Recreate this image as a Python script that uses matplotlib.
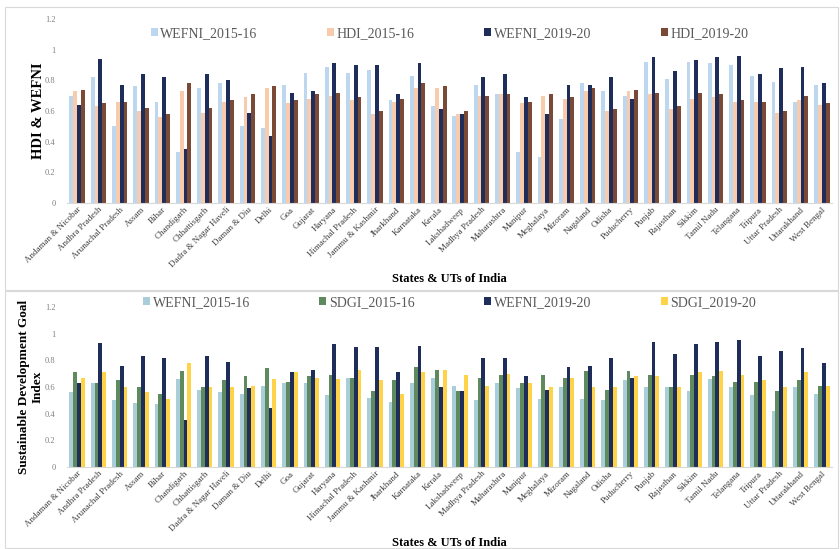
import numpy as np
import matplotlib.pyplot as plt
from matplotlib.patches import Rectangle

states = ["Andaman & Nicobar", "Andhra Pradesh", "Arunachal Pradesh", "Assam", "Bihar",
          "Chandigarh", "Chhattisgarh", "Dadra & Nagar Haveli", "Daman & Diu", "Delhi",
          "Goa", "Gujarat", "Haryana", "Himachal Pradesh", "Jammu & Kashmir", "Jharkhand",
          "Karnataka", "Kerala", "Lakshadweep", "Madhya Pradesh", "Maharashtra", "Manipur",
          "Meghalaya", "Mizoram", "Nagaland", "Odisha", "Puducherry", "Punjab", "Rajasthan",
          "Sikkim", "Tamil Nadu", "Telangana", "Tripura", "Uttar Pradesh", "Uttarakhand",
          "West Bengal"]

# top panel
wefni_15_top = [0.70, 0.82, 0.50, 0.76, 0.66, 0.33, 0.75, 0.78, 0.50, 0.49, 0.77, 0.85,
                0.89, 0.85, 0.87, 0.67, 0.83, 0.63, 0.57, 0.77, 0.71, 0.33, 0.30, 0.55,
                0.78, 0.73, 0.70, 0.92, 0.81, 0.92, 0.91, 0.90, 0.83, 0.79, 0.66, 0.77]
hdi_15 = [0.73, 0.63, 0.66, 0.60, 0.56, 0.73, 0.59, 0.66, 0.69, 0.75, 0.65, 0.68,
          0.70, 0.67, 0.58, 0.66, 0.75, 0.75, 0.58, 0.70, 0.71, 0.65, 0.70, 0.68,
          0.73, 0.60, 0.73, 0.71, 0.61, 0.68, 0.69, 0.66, 0.66, 0.59, 0.67, 0.64]
wefni_19_top = [0.64, 0.94, 0.77, 0.84, 0.82, 0.35, 0.84, 0.80, 0.59, 0.44, 0.72, 0.73,
                0.91, 0.90, 0.90, 0.71, 0.91, 0.61, 0.58, 0.82, 0.84, 0.69, 0.58, 0.77,
                0.77, 0.82, 0.68, 0.95, 0.86, 0.93, 0.95, 0.96, 0.84, 0.88, 0.89, 0.78]
hdi_19 = [0.74, 0.65, 0.66, 0.62, 0.58, 0.78, 0.62, 0.67, 0.71, 0.76, 0.67, 0.71,
          0.72, 0.69, 0.60, 0.68, 0.78, 0.76, 0.60, 0.70, 0.71, 0.66, 0.71, 0.69,
          0.75, 0.61, 0.74, 0.72, 0.63, 0.72, 0.71, 0.67, 0.66, 0.60, 0.70, 0.65]

# bottom panel
wefni_15_bot = [0.56, 0.63, 0.50, 0.48, 0.47, 0.66, 0.58, 0.56, 0.55, 0.61, 0.63, 0.63,
                0.54, 0.67, 0.52, 0.49, 0.63, 0.67, 0.61, 0.50, 0.63, 0.59, 0.51, 0.60,
                0.51, 0.50, 0.65, 0.60, 0.60, 0.57, 0.66, 0.60, 0.54, 0.42, 0.60, 0.55]
sdgi_15 = [0.71, 0.63, 0.65, 0.60, 0.55, 0.72, 0.60, 0.65, 0.68, 0.74, 0.64, 0.68,
           0.69, 0.67, 0.57, 0.65, 0.75, 0.73, 0.57, 0.67, 0.69, 0.63, 0.69, 0.67,
           0.72, 0.58, 0.72, 0.69, 0.60, 0.69, 0.68, 0.64, 0.64, 0.57, 0.65, 0.61]
wefni_19_bot = [0.63, 0.93, 0.76, 0.83, 0.82, 0.35, 0.83, 0.79, 0.59, 0.44, 0.71, 0.73,
                0.92, 0.90, 0.90, 0.71, 0.91, 0.60, 0.57, 0.82, 0.82, 0.68, 0.58, 0.75,
                0.76, 0.82, 0.67, 0.94, 0.85, 0.92, 0.94, 0.95, 0.83, 0.87, 0.89, 0.78]
sdgi_19 = [0.67, 0.71, 0.60, 0.56, 0.51, 0.78, 0.60, 0.60, 0.61, 0.66, 0.71, 0.67,
           0.66, 0.73, 0.65, 0.55, 0.71, 0.73, 0.69, 0.61, 0.70, 0.63, 0.60, 0.67,
           0.60, 0.60, 0.68, 0.68, 0.60, 0.71, 0.72, 0.69, 0.65, 0.60, 0.71, 0.61]

plt.rcParams['font.family'] = ['Liberation Serif', 'DejaVu Serif']

fig = plt.figure(figsize=(8.4, 5.49), dpi=100)

# chart borders
fig.patches.append(Rectangle((5 / 840, 1 - 290 / 549), 833 / 840, 283 / 549,
                             transform=fig.transFigure, fill=False, ec='#d9d9d9', lw=0.8))
fig.patches.append(Rectangle((5 / 840, 0.002), 833 / 840, 1 - 292 / 549,
                             transform=fig.transFigure, fill=False, ec='#d9d9d9', lw=0.8))

x = np.arange(len(states))
w = 0.18


def panel(ax, series, colors, labels, ylabel, yl_size, yl_pad, leg_y):
    for k, (vals, c, lab) in enumerate(zip(series, colors, labels)):
        ax.bar(x + (k - 1.5) * w, vals, w, color=c, label=lab)
    ax.set_xlim(-0.5, len(states) - 0.5)
    ax.set_ylim(0, 1.2)
    ax.set_yticks([0, 0.2, 0.4, 0.6, 0.8, 1.0, 1.2])
    ax.set_yticklabels(["0", "0.2", "0.4", "0.6", "0.8", "1", "1.2"])
    ax.set_xticks(x)
    ax.set_xticklabels(states, rotation=45, ha='right', rotation_mode='anchor', fontsize=6.5,
                       color='#404040')
    for s in ['top', 'right', 'left']:
        ax.spines[s].set_visible(False)
    ax.spines['bottom'].set_color('#d9d9d9')
    ax.tick_params(axis='y', length=0, labelsize=6, labelcolor='#808080', pad=8)
    ax.tick_params(axis='x', length=0, pad=2)
    ax.set_ylabel(ylabel, fontsize=yl_size, fontweight='bold', labelpad=yl_pad)
    ax.set_xlabel("States & UTs of India", fontsize=9, fontweight='bold', labelpad=3)
    ax.legend(loc='center', bbox_to_anchor=(0.5, leg_y), ncol=4, frameon=False,
              fontsize=10, columnspacing=5.0, handlelength=0.5, handleheight=0.5,
              handletextpad=0.2, labelcolor='#595959')


ax1 = fig.add_axes([66.5 / 840, 1 - 203 / 549, 766 / 840, 184 / 549])
panel(ax1, [wefni_15_top, hdi_15, wefni_19_top, hdi_19],
      ['#bdd7ee', '#f8cbad', '#1f2d5a', '#7b4a36'],
      ["WEFNI_2015-16", "HDI_2015-16", "WEFNI_2019-20", "HDI_2019-20"],
      "HDI & WEFNI", 10.5, 0, 0.92)

ax2 = fig.add_axes([66.5 / 840, 1 - 467 / 549, 766 / 840, 160 / 549])
panel(ax2, [wefni_15_bot, sdgi_15, wefni_19_bot, sdgi_19],
      ['#a9cdd9', '#5e8a5e', '#1f2d5a', '#ffd347'],
      ["WEFNI_2015-16", "SDGI_2015-16", "WEFNI_2019-20", "SDGI_2019-20"],
      "Sustainable Development Goal\nIndex", 9.5, 1, 1.03)

fig.savefig("out.png", dpi=100)
